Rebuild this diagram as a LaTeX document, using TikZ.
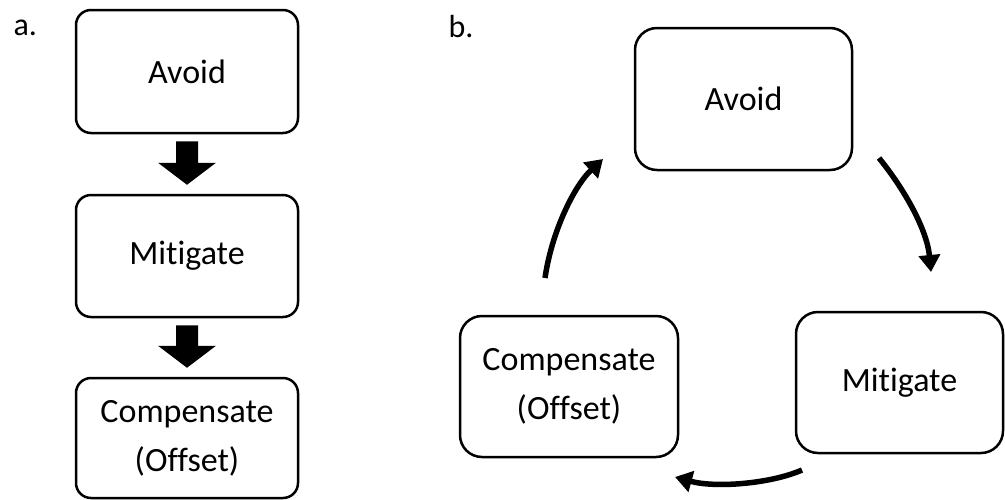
\documentclass[tikz,border=0pt]{standalone}
\usepackage{fontspec}
\setmainfont{Carlito}[Ligatures=NoCommon]
\usetikzlibrary{arrows.meta, calc}
\tikzset{
  stage box/.style={
    draw, line width=2.5pt,         % box outline
    rounded corners=15pt,
    align=center, inner sep=0pt,
    font=\fontsize{34}{49}\selectfont
  },
  panel label/.style={anchor=base west, font=\fontsize{32}{38}\selectfont},
  cycle arrow/.style={
    -{Triangle[length=17pt, width=21pt]},  % curved arrow tip
    line width=5.5pt
  }
}
% filled block arrow from the bottom of one box to the top of the next
\newcommand{\blockarrow}[2]{%
  \fill let \p1=(#1.south), \p2=(#2.north) in
    (\x1-11pt,\y1-7pt) -- (\x1+11pt,\y1-7pt) -- (\x1+11pt,\y2+31pt)
    -- (\x1+29pt,\y2+31pt) -- (\x1,\y2+9pt) -- (\x1-29pt,\y2+31pt)
    -- (\x1-11pt,\y2+31pt) -- cycle;
}

\begin{document}
\begin{tikzpicture}[x=1pt, y=-1pt]
    \useasboundingbox (0,0) rectangle (1005,499);

    % Panel a: linear sequence
    \node[panel label] (labelA) at (10,35) {a.};
    \node[stage box, minimum width=222pt, minimum height=123pt] (avoidA) at (187,71.5) {Avoid};
    \node[stage box, minimum width=222pt, minimum height=122pt] (mitA) at (187,256) {Mitigate};
    \node[stage box, minimum width=222pt, minimum height=120pt] (compA) at (187,438) {Compensate\\(Offset)};

    \foreach \from/\to in {avoidA/mitA, mitA/compA} {
      \blockarrow{\from}{\to}
    }

    % Panel b: cycle
    \node[panel label] (labelB) at (445,37) {b.};
    \node[stage box, rounded corners=22pt, minimum width=217pt, minimum height=142pt] (avoidB) at (743.5,99) {Avoid};
    \node[stage box, rounded corners=22pt, minimum width=207pt, minimum height=141pt] (mitB) at (899.5,382.5) {Mitigate};
    \node[stage box, rounded corners=22pt, minimum width=218pt, minimum height=141pt] (compB) at (569,386.5) {Compensate\\(Offset)};

    % free ends of the cycle arrows
    \coordinate (avoidOut) at (879,158);
    \coordinate (mitIn) at (931,272);
    \coordinate (mitOut) at (802,470);
    \coordinate (compIn) at (675,477);
    \coordinate (compOut) at (545,278);
    \coordinate (avoidIn) at (603,159);

    \draw[cycle arrow] (avoidOut) .. controls (905,190) and (927,230) .. (mitIn);
    \draw[cycle arrow] (mitOut) .. controls (770,484) and (715,488) .. (compIn);
    \draw[cycle arrow] (compOut) .. controls (552,230) and (575,185) .. (avoidIn);
\end{tikzpicture}
\end{document}
